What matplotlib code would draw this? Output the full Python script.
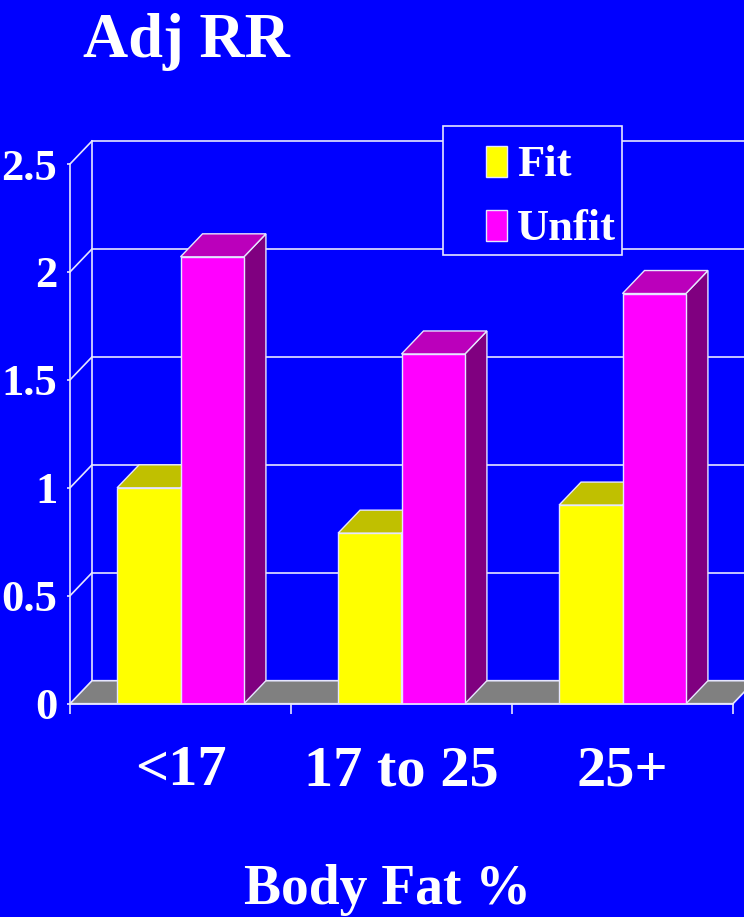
import matplotlib
matplotlib.use('Agg')
import matplotlib.pyplot as plt
import matplotlib.transforms as mtransforms
from matplotlib.patches import Polygon, Rectangle
from matplotlib.legend_handler import HandlerPatch
import numpy as np

# ---------------- data ----------------
categories = ['<17', '17 to 25', '25+']
series_names = ['Fit', 'Unfit']
fit_values = [1.0, 0.79, 0.92]
unfit_values = [2.07, 1.62, 1.90]
y_ticks = [0, 0.5, 1, 1.5, 2, 2.5]
y_tick_labels = ['0', '0.5', '1', '1.5', '2', '2.5']
title_text = 'Adj RR'
x_label = 'Body Fat %'

# ---------------- style ----------------
BG = '#0000FF'
EDGE = '#E6E6FF'
FONT = 'Liberation Serif'
FIT_FRONT, FIT_TOP, FIT_SIDE = '#FFFF00', '#C0C000', '#808000'
UNF_FRONT, UNF_TOP, UNF_SIDE = '#FF00FF', '#BB00BB', '#800080'
FLOOR = '#808080'
DX, DY = 22, 23          # depth offset of the 3-D effect (pixels)
BAR_W = 0.287

fig = plt.figure(figsize=(7.44, 9.17), dpi=100, facecolor=BG)
ax = fig.add_axes([70 / 744, 1 - 703.7 / 917, 663 / 744, (703.7 - 164) / 917])
ax.set_facecolor('none')
ax.set_xlim(-0.5, len(categories) - 0.5)
ax.set_ylim(y_ticks[0], y_ticks[-1])

IDT = mtransforms.IdentityTransform()


def P(x, y, d=0.0):
    px, py = ax.transData.transform((x, y))
    return (px + d * DX, py + d * DY)


def face(pts, color, z, lw=1.0):
    poly = Polygon([P(*p) for p in pts], closed=True, facecolor=color,
                   edgecolor=EDGE, lw=lw, transform=IDT, clip_on=False,
                   zorder=z)
    ax.add_patch(poly)


def line(p0, p1, z=0.5):
    a, b = P(*p0), P(*p1)
    ax.add_line(plt.Line2D([a[0], b[0]], [a[1], b[1]], color=EDGE, lw=1.2,
                           transform=IDT, clip_on=False, zorder=z))


x0, x1 = ax.get_xlim()
# back wall grid + side wall diagonals
for v in y_ticks[1:]:
    line((x0, v, 1), (x1 + 0.2, v, 1))
    line((x0, v, 0), (x0, v, 1))
line((x0, 0, 1), (x0, y_ticks[-1], 1))

# floor
face([(x0, 0, 0), (x1, 0, 0), (x1, 0, 1), (x0, 0, 1)], FLOOR, 1, lw=1.2)

# bars
x = np.arange(len(categories))
xf = x - BAR_W / 2
xu = x + BAR_W / 2
for xc, h, top, side in [(xf, fit_values, FIT_TOP, FIT_SIDE),
                         (xu, unfit_values, UNF_TOP, UNF_SIDE)]:
    for c, v in zip(xc, h):
        l, r = c - BAR_W / 2, c + BAR_W / 2
        face([(r, 0, 0), (r, 0, 1), (r, v, 1), (r, v, 0)], side, 3)
        face([(l, v, 0), (r, v, 0), (r, v, 1), (l, v, 1)], top, 3)

b1 = ax.bar(xf, fit_values, BAR_W, color=FIT_FRONT, edgecolor=EDGE,
            linewidth=1.0, zorder=4, label=series_names[0])
b2 = ax.bar(xu, unfit_values, BAR_W, color=UNF_FRONT, edgecolor=EDGE,
            linewidth=1.0, zorder=4, label=series_names[1])

# axes
for s in ['top', 'right']:
    ax.spines[s].set_visible(False)
for s in ['left', 'bottom']:
    ax.spines[s].set_color(EDGE)
    ax.spines[s].set_linewidth(1.2)
    ax.spines[s].set_zorder(5)

ax.set_yticks(y_ticks)
ax.set_yticklabels(y_tick_labels, family=FONT, weight='bold', fontsize=32,
                   color='white')
ax.tick_params(axis='y', direction='out', length=2.2, width=1.2,
               color=EDGE, pad=7)
ax.set_xticks(x)
ax.set_xticklabels(categories, family=FONT, weight='bold', fontsize=42,
                   color='white')
ax.set_xticks(np.arange(len(categories) + 1) - 0.5, minor=True)
ax.tick_params(axis='x', which='major', length=0, pad=30)
ax.tick_params(axis='x', which='minor', direction='out', length=7.5,
               width=1.2, color=EDGE)

# titles
fig.text(83 / 744, 1 - 57 / 917, title_text, family=FONT, weight='bold',
         fontsize=45, color='white', ha='left', va='baseline')
fig.text(387 / 744, 1 - 904 / 917, x_label, family=FONT, weight='bold',
         fontsize=40, color='white', ha='center', va='baseline')

# legend frame (drawn separately so the padding can match the original)
frame = Rectangle((443 / 744, 1 - 255 / 917), 179 / 744, 129 / 917,
                  transform=fig.transFigure, facecolor=BG, edgecolor=EDGE,
                  lw=1.2, clip_on=False, zorder=5.5)
ax.add_patch(frame)

LEG_FS = 32


def swatch(legend, orig_handle, xdescent, ydescent, width, height, fontsize):
    sw, sh = 15.1, 22.3   # points
    cap_mid = 0.331 * fontsize
    return Rectangle((-xdescent + width - sw, cap_mid - sh / 2), sw, sh)


handles = [Rectangle((0, 0), 1, 1, facecolor=FIT_FRONT, edgecolor=EDGE),
           Rectangle((0, 0), 1, 1, facecolor=UNF_FRONT, edgecolor=EDGE)]
leg = ax.legend(handles, series_names, loc='upper left',
                bbox_to_anchor=(486 / 744, 1 - 145 / 917),
                bbox_transform=fig.transFigure, borderaxespad=0,
                prop=dict(family=FONT, weight='bold', size=LEG_FS),
                labelcolor='white', frameon=False,
                borderpad=0, labelspacing=0.53, handlelength=15.1 / LEG_FS,
                handleheight=0.7, handletextpad=0.225,
                handler_map={Rectangle: HandlerPatch(patch_func=swatch)})
leg.set_zorder(6)

fig.savefig('out.png', dpi=100, facecolor=BG)
